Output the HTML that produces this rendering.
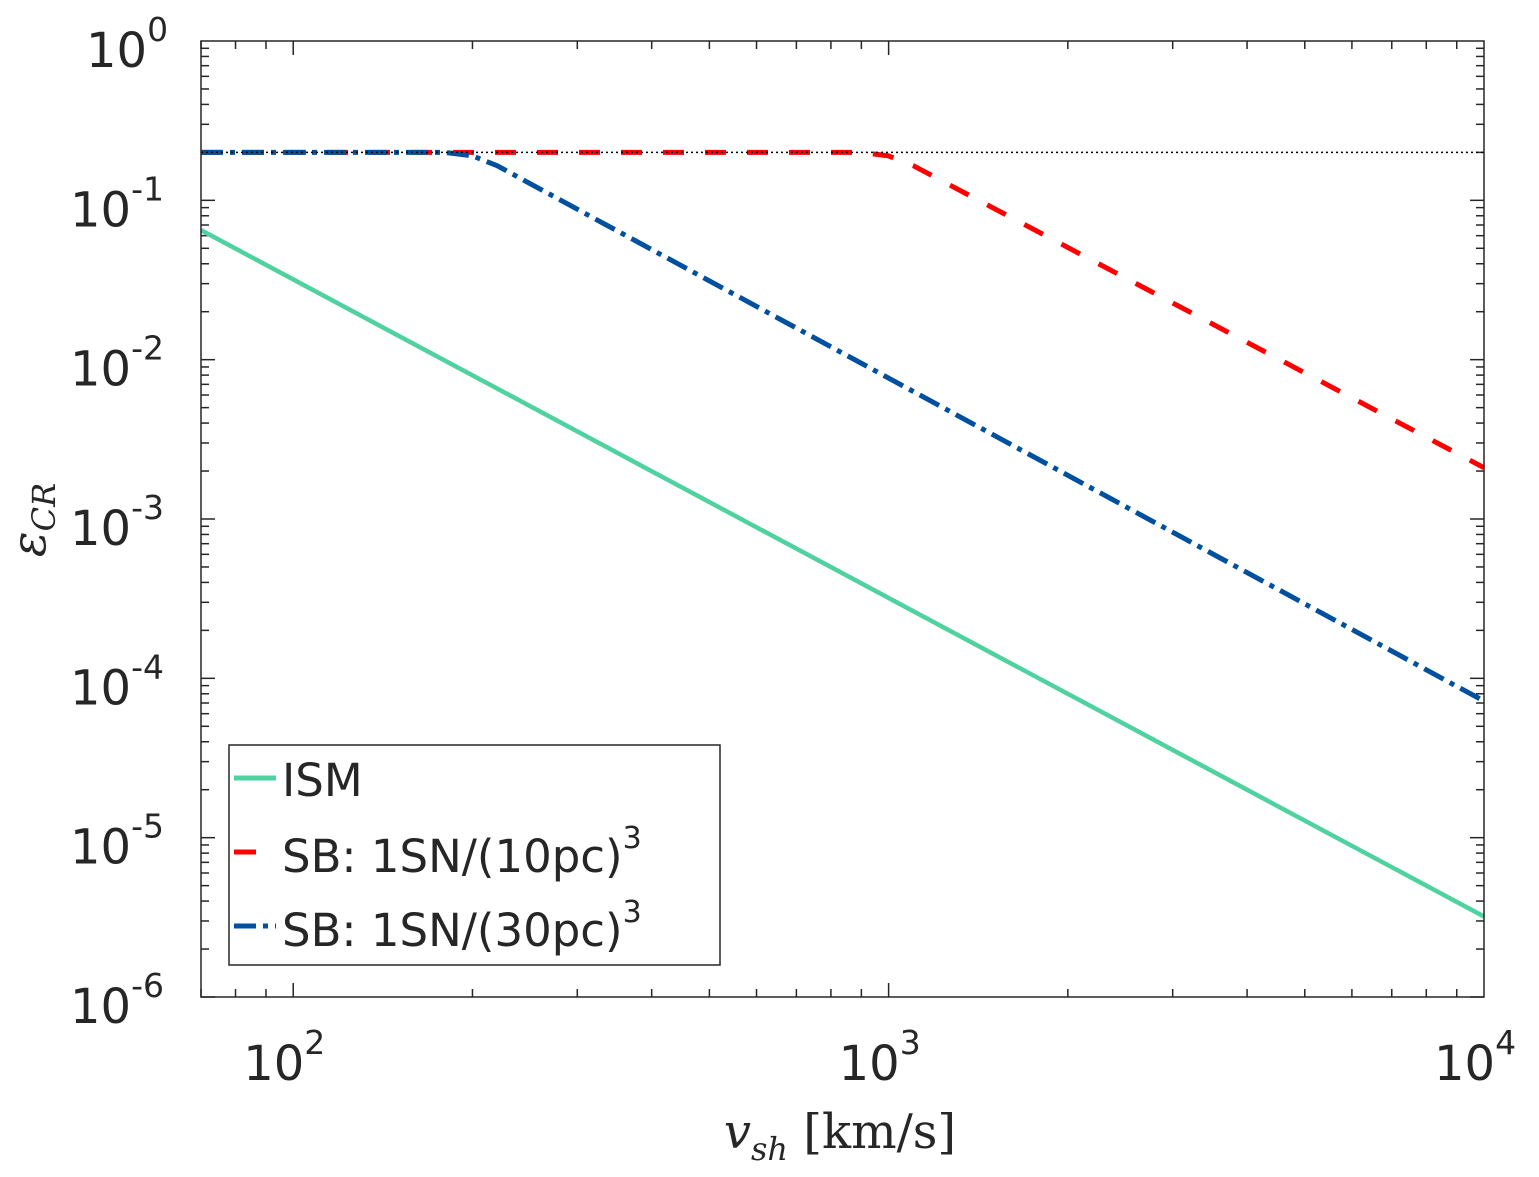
<!DOCTYPE html>
<html><head><meta charset="utf-8"><style>
html,body{margin:0;padding:0;background:#fff;}
svg text{font-family:"DejaVu Sans","Liberation Sans",sans-serif;fill:#262626;}
</style></head><body>
<svg id="chart" width="1539" height="1172" viewBox="0 0 1539 1172" xmlns="http://www.w3.org/2000/svg">
<rect x="0" y="0" width="1539" height="1172" fill="#fff"/>
<g id="grid"></g>
<g id="series"></g>
<rect x="201" y="41" width="1283" height="956" fill="none" stroke="#262626" stroke-width="1.5"/>
<g id="labels"></g>
<text x="840" y="1148" text-anchor="middle" style="font-family:'DejaVu Serif','Liberation Serif',serif;font-size:48px;fill:#262626"><tspan font-style="italic">v</tspan><tspan font-style="italic" font-size="32" dy="12">sh</tspan><tspan dy="-12"> [km/s]</tspan></text>
<text transform="translate(45,520) rotate(-90)" text-anchor="middle" style="font-family:'DejaVu Serif','Liberation Serif',serif;font-size:48px;font-style:italic;fill:#262626">ε<tspan font-size="32" dy="10">CR</tspan></text>
<g>
<rect x="229" y="745" width="491" height="220" fill="#fff" stroke="#262626" stroke-width="1.5"/>
<line x1="234" y1="778" x2="276" y2="778" stroke="#4fd1a0" stroke-width="5"/>
<text x="282" y="796" font-size="45">ISM</text>
<line x1="234" y1="852" x2="256" y2="852" stroke="#f00" stroke-width="5"/>
<text x="282" y="872" font-size="45">SB: 1SN/(10pc)<tspan font-size="30" dy="-24">3</tspan></text>
<line x1="234" y1="926" x2="276" y2="926" stroke="#0050a0" stroke-width="5" stroke-dasharray="22 7 5 7"/>
<text x="282" y="946" font-size="45">SB: 1SN/(30pc)<tspan font-size="30" dy="-24">3</tspan></text>
</g>
</svg>
<script>
const xTickExps=[2,3,4];
const yTickExps=[0,-1,-2,-3,-4,-5,-6];
const ismV=[70,10000];
const ismE=[0.065,3.2e-6];
const sb10V=[70,900,1000,1100,10000];
const sb10E=[0.2,0.2,0.19,0.165,0.0021];
const sb30V=[70,180,200,220,10000];
const sb30E=[0.2,0.2,0.19,0.165,7.2e-5];
const limitV=[70,10000];
const limitE=[0.2,0.2];

const X0=201,X1=1484,Y0=41,Y1=997;
const xmin=Math.log10(70),xmax=4;
function sx(v){return X0+(Math.log10(v)-xmin)/(xmax-xmin)*(X1-X0);}
function sy(e){return Y0+(0-Math.log10(e))/6*(Y1-Y0);}
const NS='http://www.w3.org/2000/svg';
function mk(tag,attrs,parent){const el=document.createElementNS(NS,tag);for(const k in attrs)el.setAttribute(k,attrs[k]);parent.appendChild(el);return el;}
const grid=document.getElementById('grid'),labels=document.getElementById('labels'),series=document.getElementById('series');
for(let d=1;d<4;d++){for(let m=1;m<10;m++){const v=m*Math.pow(10,d);if(v<70)continue;const x=sx(v);const L=m===1?14:8;
const t1=mk('line',{x1:x,y1:Y1,x2:x,y2:Y1-L,stroke:'#262626','stroke-width':1.5},grid);


const t2=mk('line',{x1:x,y1:Y0,x2:x,y2:Y0+L,stroke:'#262626','stroke-width':1.5},grid);

}}
xTickExps.forEach(p=>{const x=sx(Math.pow(10,p));
const t=mk('text',{x:x-50,y:1080,'font-size':48},labels);t.textContent='10';


const s=mk('tspan',{'font-size':33,dy:-26},t);s.textContent=String(p);});
for(let d=-6;d<0;d++){for(let m=1;m<10;m++){const e=m*Math.pow(10,d);const y=sy(e);const L=m===1?14:8;
const t1=mk('line',{x1:X0,y1:y,x2:X0+L,y2:y,stroke:'#262626','stroke-width':1.5},grid);


const t2=mk('line',{x1:X1,y1:y,x2:X1-L,y2:y,stroke:'#262626','stroke-width':1.5},grid);

}}
yTickExps.forEach(p=>{const y=sy(Math.pow(10,p));
const t=mk('text',{x:p<0?70:86,y:y+26,'font-size':48},labels);t.textContent='10';


const s=mk('tspan',{'font-size':33,dy:-26},t);s.textContent=p<0?'-'+(-p):String(p);});
function path(V,E){return V.map((v,i)=>(i?'L':'M')+sx(v).toFixed(1)+' '+sy(E[i]).toFixed(1)).join(' ');}
const pI=mk('path',{d:path(ismV,ismE),fill:'none',stroke:'#4fd1a0','stroke-width':4.5},series);


const pR=mk('path',{d:path(sb10V,sb10E),fill:'none',stroke:'#f00','stroke-width':5,'stroke-dasharray':'21 21','stroke-linejoin':'round'},series);


const pB=mk('path',{d:path(sb30V,sb30E),fill:'none',stroke:'#0050a0','stroke-width':5,'stroke-dasharray':'22 7 5 7','stroke-linejoin':'round'},series);


const pL=mk('path',{d:path(limitV,limitE),fill:'none',stroke:'#000','stroke-width':1.5,'stroke-dasharray':'2 3'},series);


</script>
</body></html>
